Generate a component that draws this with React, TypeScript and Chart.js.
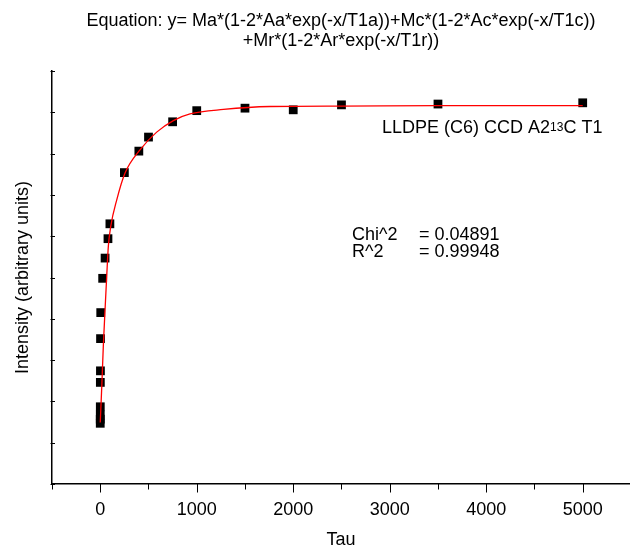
import React, { useEffect, useRef } from 'react';
import { Chart, registerables } from 'chart.js';

Chart.register(...registerables);

// ---- Text ----
const titleLines = [
  'Equation: y= Ma*(1-2*Aa*exp(-x/T1a))+Mc*(1-2*Ac*exp(-x/T1c))',
  '+Mr*(1-2*Ar*exp(-x/T1r))',
];
const xAxisTitle = 'Tau';
const yAxisTitle = 'Intensity (arbitrary units)';
const sampleLabelParts = ['LLDPE (C6) CCD A2', '13', 'C T1'];
const statNames = ['Chi^2', 'R^2'];
const statValues = ['= 0.04891', '= 0.99948'];

// ---- Data ----
const tauValues = [0, 0.1, 0.2, 0.5, 1, 2, 3, 5, 25, 50, 80, 100, 250, 400, 500, 750, 1000, 1500, 2000, 2500, 3500, 5000];
const intensityValues = [1.47, 1.57, 1.67, 1.87, 2.46, 2.74, 3.52, 4.15, 4.98, 5.47, 5.94, 6.3, 7.54, 8.06, 8.4, 8.77, 9.04, 9.1, 9.06, 9.18, 9.2, 9.23];

const fitTau = [0, 16, 32, 50, 67, 84, 109, 171, 257, 412, 585, 758, 930, 1277, 1760, 2500, 3500, 5000];
const fitIntensity = [1.49, 2.37, 3.35, 4.23, 5.03, 5.76, 6.24, 6.88, 7.53, 8.09, 8.52, 8.8, 8.96, 9.07, 9.14, 9.15, 9.16, 9.16];

// ---- Ticks ----
const xTickValues = [-500, 0, 500, 1000, 1500, 2000, 2500, 3000, 3500, 4000, 4500, 5000];
const xMajorLabels = ['0', '1000', '2000', '3000', '4000', '5000'];
const yTickValues = [0, 1, 2, 3, 4, 5, 6, 7, 8, 9, 10];

const FONT = "'Liberation Sans', Arial, Helvetica, sans-serif";

const decorPlugin = {
  id: 'decor',
  afterDraw(chart: any) {
    const { ctx, chartArea, scales } = chart;
    const xs = scales.x;
    const ys = scales.y;
    ctx.save();
    ctx.strokeStyle = '#000';
    ctx.lineWidth = 1;
    xs.ticks.forEach((t: any) => {
      const px = Math.round(xs.getPixelForValue(t.value)) + 0.5;
      const len = xMajorLabels.includes(String(t.value)) ? 8.5 : 5.5;
      ctx.beginPath();
      ctx.moveTo(px, chartArea.bottom);
      ctx.lineTo(px, chartArea.bottom + len);
      ctx.stroke();
    });
    ys.ticks.forEach((t: any) => {
      const py = Math.round(ys.getPixelForValue(t.value)) + 0.5;
      ctx.beginPath();
      ctx.moveTo(chartArea.left - 1.5, py);
      ctx.lineTo(chartArea.left + 3, py);
      ctx.stroke();
    });

    ctx.fillStyle = '#000';
    ctx.textAlign = 'left';
    ctx.textBaseline = 'alphabetic';
    const big = `18px ${FONT}`;
    const small = `12px ${FONT}`;
    let x = 382;
    const by = 132.5;
    ctx.font = big;
    ctx.fillText(sampleLabelParts[0], x, by);
    x += ctx.measureText(sampleLabelParts[0]).width;
    ctx.font = small;
    ctx.fillText(sampleLabelParts[1], x, by - 1.5);
    x += ctx.measureText(sampleLabelParts[1]).width;
    ctx.font = big;
    ctx.fillText(sampleLabelParts[2], x, by);

    const statBaselines = [239.5, 257];
    statNames.forEach((name, i) => {
      ctx.fillText(name, 352, statBaselines[i]);
      ctx.fillText(statValues[i], 419, statBaselines[i]);
    });
    ctx.restore();
  },
};

export default function App() {
  const canvasRef = useRef<HTMLCanvasElement | null>(null);

  useEffect(() => {
    const canvas = canvasRef.current;
    if (!canvas) return;
    Chart.defaults.font.family = FONT;
    Chart.defaults.color = '#000';
    const chart = new Chart(canvas, {
      type: 'scatter',
      data: {
        datasets: [
          {
            type: 'line',
            label: 'fit',
            data: fitTau.map((t, i) => ({ x: t, y: fitIntensity[i] })),
            borderColor: '#ff0000',
            borderWidth: 1.3,
            pointRadius: 0,
            fill: false,
            cubicInterpolationMode: 'monotone',
            order: 0,
          } as any,
          {
            type: 'scatter',
            label: 'data',
            data: tauValues.map((t, i) => ({ x: t, y: intensityValues[i] })),
            pointStyle: 'rect',
            pointRadius: 6.2,
            pointHoverRadius: 6.2,
            backgroundColor: '#000',
            borderColor: '#000',
            borderWidth: 0,
            order: 1,
          } as any,
        ],
      },
      options: {
        responsive: false,
        animation: false,
        devicePixelRatio: 1,
        events: [],
        layout: { padding: 0, autoPadding: false },
        plugins: {
          legend: { display: false },
          tooltip: { enabled: false },
          title: {
            display: true,
            fullSize: false,
            text: titleLines,
            color: '#000',
            font: { size: 18, weight: 'normal', lineHeight: 20 / 18 },
            padding: { top: 11, bottom: 20 },
          },
        },
        scales: {
          x: {
            type: 'linear',
            min: -500,
            max: 5490,
            afterFit: (scale: any) => {
              scale.height = 72;
              scale.paddingLeft = 0;
              scale.paddingRight = 0;
            },
            afterBuildTicks: (scale: any) => {
              scale.ticks = xTickValues.map((v) => ({ value: v }));
            },
            ticks: {
              autoSkip: false,
              maxRotation: 0,
              minRotation: 0,
              padding: 0,
              color: '#000',
              font: { size: 18 },
              callback: (v: any) => {
                const s = String(v);
                return xMajorLabels.includes(s) ? s : '';
              },
            },
            grid: { display: false, drawTicks: true, tickLength: 15 },
            border: { display: true, color: '#000', width: 1.5 },
            title: {
              display: true,
              text: xAxisTitle,
              color: '#000',
              font: { size: 18 },
              padding: { top: 0, bottom: 5 },
            },
          },
          y: {
            type: 'linear',
            min: 0,
            max: 10,
            afterFit: (scale: any) => {
              scale.width = 52;
              scale.paddingTop = 0;
              scale.paddingBottom = 0;
            },
            afterBuildTicks: (scale: any) => {
              scale.ticks = yTickValues.map((v) => ({ value: v }));
            },
            ticks: { display: false, padding: 0 },
            grid: { display: false, drawTicks: false, tickLength: 0 },
            border: { display: true, color: '#000', width: 1.5 },
            title: {
              display: true,
              text: yAxisTitle,
              color: '#000',
              font: { size: 18 },
              padding: { top: 12, bottom: 0 },
            },
          },
        },
      },
      plugins: [decorPlugin],
    });
    return () => chart.destroy();
  }, []);

  return (
    <div
      style={{
        position: 'fixed',
        left: 0,
        top: 0,
        width: 630,
        height: 550,
        overflow: 'hidden',
        background: '#fff',
      }}
    >
      <canvas ref={canvasRef} width={630} height={556} style={{ display: 'block' }} />
    </div>
  );
}
